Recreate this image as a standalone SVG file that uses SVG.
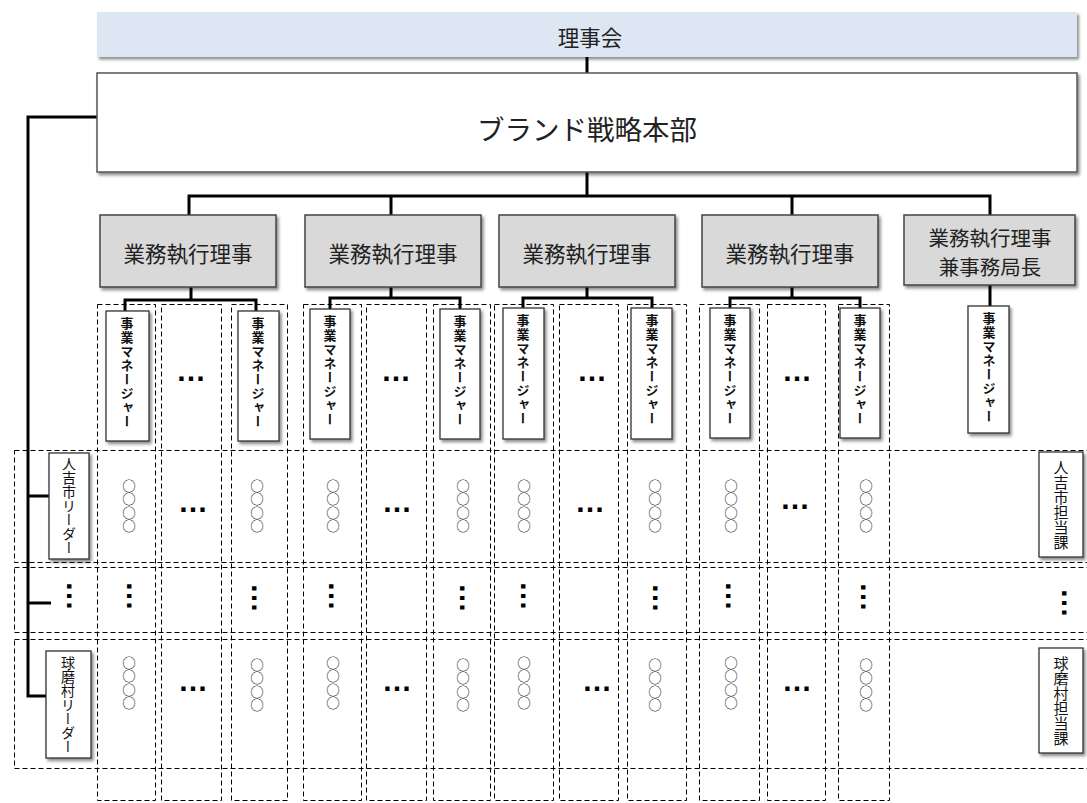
<svg xmlns="http://www.w3.org/2000/svg" width="1087" height="803" viewBox="0 0 1087 803">
<defs>
<filter id="sh" x="-20%" y="-20%" width="140%" height="140%">
<feDropShadow dx="2" dy="2.5" stdDeviation="1.8" flood-color="#000" flood-opacity="0.45"/>
</filter>
<style>
text{font-family:"Noto Sans CJK JP","Noto Sans",sans-serif;fill:#222}
.hdr{font-size:21.5px;text-anchor:middle;dominant-baseline:central}
.hdr2{font-size:20.5px;text-anchor:middle;dominant-baseline:central}
.big{font-size:27.5px;text-anchor:middle;dominant-baseline:central}
.riji{fill:#d9d9d9;stroke:#444;stroke-width:1.5}
.wbox{fill:#fff;stroke:#333;stroke-width:1.3}
.vt{writing-mode:vertical-rl;font-size:13px;font-weight:700;fill:#111;letter-spacing:1px}
.vl{writing-mode:vertical-rl;font-size:14px;fill:#111}
.vr{writing-mode:vertical-rl;font-size:15px;fill:#111;text-anchor:middle}
.circ{writing-mode:vertical-rl;font-size:13.5px;fill:#111;text-anchor:middle;font-family:"Noto Sans CJK JP",sans-serif}
.ell{font-family:"Liberation Sans",sans-serif;font-size:30px;font-weight:700;text-anchor:middle;fill:#000}
.dash{fill:none;stroke:#000;stroke-width:1;stroke-dasharray:5 3}
.conn{fill:none;stroke:#000;stroke-width:3}
</style>
</defs>
<rect width="1087" height="803" fill="#fff"/>

<g id="grid" transform="translate(0.5 0.5)">
<rect class="dash" x="14" y="450" width="1090" height="112"/>
<rect class="dash" x="14" y="567" width="1090" height="65"/>
<rect class="dash" x="14" y="639" width="1090" height="129"/>
<rect class="dash" x="97" y="304" width="58" height="496"/>
<rect class="dash" x="161" y="304" width="60" height="496"/>
<rect class="dash" x="231" y="304" width="56" height="496"/>
<rect class="dash" x="303" y="304" width="58" height="496"/>
<rect class="dash" x="366" y="304" width="60" height="496"/>
<rect class="dash" x="433" y="304" width="57" height="496"/>
<rect class="dash" x="494" y="304" width="59" height="496"/>
<rect class="dash" x="559" y="304" width="59" height="496"/>
<rect class="dash" x="627" y="304" width="59" height="496"/>
<rect class="dash" x="699" y="304" width="60" height="496"/>
<rect class="dash" x="767" y="304" width="58" height="496"/>
<rect class="dash" x="838" y="304" width="51" height="496"/>
</g>

<g id="connectors">
<path class="conn" d="M587 57V73"/>
<path class="conn" d="M587 172V196M189 215V196H990V215M391 196V215M792 196V215"/>
<path class="conn" d="M97 117H28V696H46M28 496H50M28 603H51"/>
<path class="conn" d="M191 287V300M125 311V300H256V311"/>
<path class="conn" d="M391 287V298M330 309V298H460V309"/>
<path class="conn" d="M587 287V298M523 308V298H652V308"/>
<path class="conn" d="M792 287V298M730 308V298H860V308"/>
<path class="conn" d="M990 285V306"/>
</g>

<g id="rijikai">
<rect x="97" y="12" width="980" height="45" fill="#dde7f4" filter="url(#sh)"/>
<text class="hdr" x="590" y="36">理事会</text>
</g>
<g id="honbu">
<rect x="97" y="73" width="980" height="99" fill="#fff" stroke="#555" stroke-width="1.5" filter="url(#sh)"/>
<text class="big" x="587" y="128">ブランド戦略本部</text>
</g>

<g id="riji1"><rect class="riji" x="100" y="215" width="176" height="72" filter="url(#sh)"/><text class="hdr" x="188" y="252">業務執行理事</text></g>
<g id="riji2"><rect class="riji" x="305" y="215" width="176" height="72" filter="url(#sh)"/><text class="hdr" x="393" y="252">業務執行理事</text></g>
<g id="riji3"><rect class="riji" x="499" y="215" width="176" height="72" filter="url(#sh)"/><text class="hdr" x="587" y="252">業務執行理事</text></g>
<g id="riji4"><rect class="riji" x="702" y="215" width="176" height="72" filter="url(#sh)"/><text class="hdr" x="790" y="252">業務執行理事</text></g>
<g id="riji5"><rect class="riji" x="904" y="215" width="171" height="70" filter="url(#sh)"/><text class="hdr2" x="990" y="237">業務執行理事</text><text class="hdr2" x="990" y="266">兼事務局長</text></g>

<g id="mgr1a"><rect class="wbox" x="106" y="311" width="43" height="130" filter="url(#sh)"/><text class="vt" x="127" y="317">事業マネージャー</text></g>
<g id="mgr1b"><rect class="wbox" x="238" y="311" width="41" height="130" filter="url(#sh)"/><text class="vt" x="258" y="317">事業マネージャー</text></g>
<g id="mgr2a"><rect class="wbox" x="310" y="309" width="40" height="130" filter="url(#sh)"/><text class="vt" x="330" y="315">事業マネージャー</text></g>
<g id="mgr2b"><rect class="wbox" x="440" y="309" width="40" height="130" filter="url(#sh)"/><text class="vt" x="460" y="315">事業マネージャー</text></g>
<g id="mgr3a"><rect class="wbox" x="503" y="308" width="41" height="131" filter="url(#sh)"/><text class="vt" x="523" y="314">事業マネージャー</text></g>
<g id="mgr3b"><rect class="wbox" x="631" y="308" width="41" height="131" filter="url(#sh)"/><text class="vt" x="652" y="314">事業マネージャー</text></g>
<g id="mgr4a"><rect class="wbox" x="710" y="308" width="40" height="130" filter="url(#sh)"/><text class="vt" x="730" y="314">事業マネージャー</text></g>
<g id="mgr4b"><rect class="wbox" x="840" y="308" width="40" height="130" filter="url(#sh)"/><text class="vt" x="860" y="314">事業マネージャー</text></g>
<g id="mgr5"><rect class="wbox" x="968" y="306" width="41" height="127" filter="url(#sh)"/><text class="vt" x="989" y="312">事業マネージャー</text></g>

<g id="leader1"><rect class="wbox" x="49" y="453" width="40" height="106" filter="url(#sh)"/><text class="vl" x="69" y="457">人吉市リーダー</text></g>
<g id="leader2"><rect class="wbox" x="46" y="651" width="45" height="107" filter="url(#sh)"/><text class="vl" x="68" y="656">球磨村リーダー</text></g>
<g id="tanto1"><rect class="wbox" x="1039" y="452" width="44" height="105" filter="url(#sh)"/><text class="vr" x="1061" y="505">人吉市担当課</text></g>
<g id="tanto2"><rect class="wbox" x="1039" y="648" width="44" height="105" filter="url(#sh)"/><text class="vr" x="1061" y="701">球磨村担当課</text></g>

<g id="cells">
<text class="ell" x="191" y="381">…</text>
<text class="ell" x="396" y="381">…</text>
<text class="ell" x="592" y="381">…</text>
<text class="ell" x="797" y="381">…</text>

<text class="circ" x="129" y="506">○○○○</text>
<text class="circ" x="257" y="506">○○○○</text>
<text class="circ" x="333" y="506">○○○○</text>
<text class="circ" x="463" y="506">○○○○</text>
<text class="circ" x="524" y="506">○○○○</text>
<text class="circ" x="655" y="506">○○○○</text>
<text class="circ" x="731" y="506">○○○○</text>
<text class="circ" x="866" y="506">○○○○</text>
<text class="ell" x="193" y="512">…</text>
<text class="ell" x="397" y="512">…</text>
<text class="ell" x="590" y="512">…</text>
<text class="ell" x="795" y="509">…</text>

<text class="ell" transform="rotate(90 66.5 596)" x="66.5" y="596">…</text>
<text class="ell" transform="rotate(90 126.5 596)" x="126.5" y="596">…</text>
<text class="ell" transform="rotate(90 252 598)" x="252" y="598">…</text>
<text class="ell" transform="rotate(90 329 596)" x="329" y="596">…</text>
<text class="ell" transform="rotate(90 460 598)" x="460" y="598">…</text>
<text class="ell" transform="rotate(90 521 596)" x="521" y="596">…</text>
<text class="ell" transform="rotate(90 653 598)" x="653" y="598">…</text>
<text class="ell" transform="rotate(90 725.5 596)" x="725.5" y="596">…</text>
<text class="ell" transform="rotate(90 860.5 597)" x="860.5" y="597">…</text>
<text class="ell" transform="rotate(90 1061.5 603)" x="1061.5" y="603">…</text>

<text class="circ" x="129" y="683">○○○○</text>
<text class="circ" x="257" y="685">○○○○</text>
<text class="circ" x="333" y="683">○○○○</text>
<text class="circ" x="463" y="685">○○○○</text>
<text class="circ" x="524" y="683">○○○○</text>
<text class="circ" x="655" y="685">○○○○</text>
<text class="circ" x="731" y="683">○○○○</text>
<text class="circ" x="866" y="685">○○○○</text>
<text class="ell" x="193" y="691">…</text>
<text class="ell" x="397" y="691">…</text>
<text class="ell" x="597" y="691">…</text>
<text class="ell" x="797" y="691">…</text>
</g>
</svg>
